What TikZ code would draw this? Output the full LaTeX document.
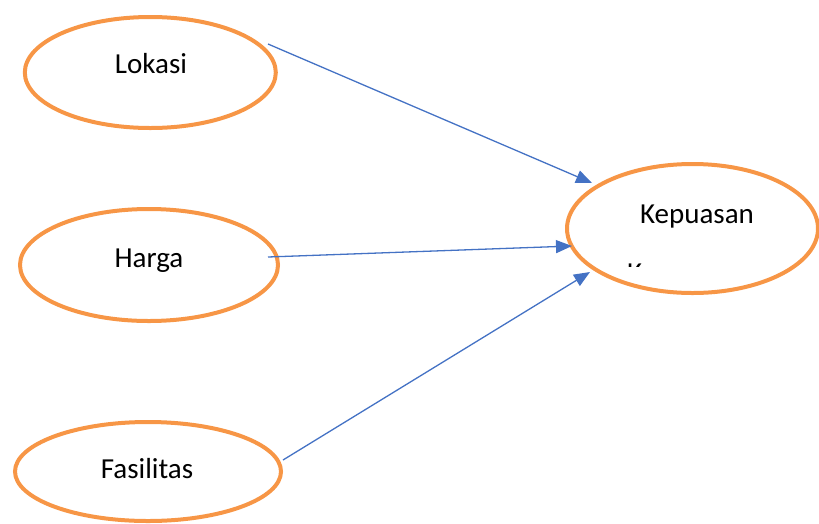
\documentclass[tikz,border=0pt]{standalone}
\usepackage{fontspec}
\setmainfont{Carlito}
\usetikzlibrary{shapes.geometric,arrows.meta}
\definecolor{ovalorange}{RGB}{247,150,70}
\definecolor{linkblue}{RGB}{68,114,196}
\begin{document}
\begin{tikzpicture}[x=1pt,y=-1pt,
  oval/.style={ellipse,draw=ovalorange,line width=4pt,inner sep=0pt},
  lbl/.style={anchor=base,inner sep=0pt,font=\fontsize{29}{34}\selectfont},
  link/.style={draw=linkblue,line width=1.3pt,-{Triangle[length=16pt,width=13pt]}}]
\useasboundingbox (0,0) rectangle (819,523);
\clip (0,0) rectangle (819,523);

% variables
\node[oval,minimum width=251pt,minimum height=111pt] (lok) at (150.3,72.5) {};
\node[oval,minimum width=258pt,minimum height=112pt] (har) at (149,265) {};
\node[oval,minimum width=266pt,minimum height=99pt]  (fas) at (148,471.5) {};
\node[oval,minimum width=251pt,minimum height=129pt] (kep) at (692.5,228.5) {};

\node[lbl] (tlok) at (151,73) {Lokasi};
\node[lbl] (thar) at (149,267) {Harga};
\node[lbl] (tfas) at (147,478) {Fasilitas};
\node[lbl] (tkep) at (697,223) {Kepuasan};

% second line of the dependent variable, cut off by the oval
\begin{scope}
  \clip (620,263.5) rectangle (650,266.5);
  \node[anchor=base west,inner sep=0pt,font=\fontsize{29}{34}\selectfont] (tkep2) at (627,282.5) {K};
\end{scope}

% connector end points
\coordinate (s1) at (268,44);
\coordinate (e1) at (592,183);
\coordinate (s2) at (268,257);
\coordinate (e2) at (572,246);
\coordinate (s3) at (283,460);
\coordinate (e3) at (590,272);

\draw[link] (s1) -- (e1);
\draw[link] (s2) -- (e2);
\draw[link] (s3) -- (e3);
\end{tikzpicture}
\end{document}
